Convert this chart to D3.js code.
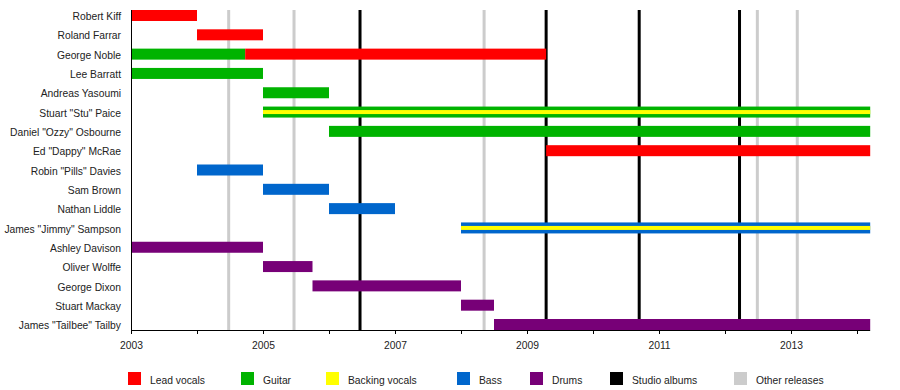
<!DOCTYPE html>
<html><head><meta charset="utf-8">
<script src="https://cdn.jsdelivr.net/npm/d3@7"></script>
<style>
html,body{margin:0;padding:0;background:#fff;}
svg{display:block;font-family:"Liberation Sans",Arial,sans-serif;}
</style></head>
<body><svg id="chart" width="900" height="390"></svg>
<script>
const members = ["Robert Kiff","Roland Farrar","George Noble","Lee Barratt","Andreas Yasoumi",
 "Stuart \"Stu\" Paice","Daniel \"Ozzy\" Osbourne","Ed \"Dappy\" McRae","Robin \"Pills\" Davies",
 "Sam Brown","Nathan Liddle","James \"Jimmy\" Sampson","Ashley Davison","Oliver Wolffe",
 "George Dixon","Stuart Mackay","James \"Tailbee\" Tailby"];
const roles = ["Lead vocals","Guitar","Backing vocals","Bass","Drums","Studio albums","Other releases"];
const roleColors = ["#ff0000","#00b300","#ffff00","#0066cc","#770077","#000000","#cccccc"];
const END = 2014.2;
// [member, role, start, end]
const spells = [
 ["Robert Kiff","Lead vocals",2003,2004],
 ["Roland Farrar","Lead vocals",2004,2005],
 ["George Noble","Guitar",2003,2004.73],
 ["George Noble","Lead vocals",2004.73,2009.29],
 ["Lee Barratt","Guitar",2003,2005],
 ["Andreas Yasoumi","Guitar",2005,2006],
 ["Stuart \"Stu\" Paice","Guitar",2005,END],
 ["Daniel \"Ozzy\" Osbourne","Guitar",2006,END],
 ["Ed \"Dappy\" McRae","Lead vocals",2009.29,END],
 ["Robin \"Pills\" Davies","Bass",2004,2005],
 ["Sam Brown","Bass",2005,2006],
 ["Nathan Liddle","Bass",2006,2007],
 ["James \"Jimmy\" Sampson","Bass",2008,END],
 ["Ashley Davison","Drums",2003,2005],
 ["Oliver Wolffe","Drums",2005,2005.75],
 ["George Dixon","Drums",2005.75,2008],
 ["Stuart Mackay","Drums",2008,2008.5],
 ["James \"Tailbee\" Tailby","Drums",2008.5,END]
];
// secondary stripe [member, role, start, end]
const stripes = [
 ["Stuart \"Stu\" Paice","Backing vocals",2005,END],
 ["James \"Jimmy\" Sampson","Backing vocals",2008,END]
];
const studioAlbums = [2006.47, 2009.29, 2010.70, 2012.22];
const otherReleases = [2004.48, 2005.47, 2008.35, 2012.49, 2013.095];
const tickYears = [2003,2004,2005,2006,2007,2008,2009,2010,2011,2012,2013,2014];
const tickLabels = ["2003","2005","2007","2009","2011","2013"];

const svg = d3.select("#chart");
const x = d3.scaleLinear().domain([2003, END]).range([131, 870.2]);
const y = d3.scaleBand().domain(members).range([10, 330]).paddingInner(0.4304).paddingOuter(0);
const color = d3.scaleOrdinal().domain(roles).range(roleColors);

// release lines
svg.append("g").selectAll("line").data(otherReleases).join("line")
  .attr("x1", d=>x(d)).attr("x2", d=>x(d)).attr("y1",10).attr("y2",330)
  .attr("stroke", color("Other releases")).attr("stroke-width",3);
svg.append("g").selectAll("line").data(studioAlbums).join("line")
  .attr("x1", d=>x(d)).attr("x2", d=>x(d)).attr("y1",10).attr("y2",330)
  .attr("stroke", color("Studio albums")).attr("stroke-width",3);

// bars
svg.append("g").selectAll("rect").data(spells).join("rect")
  .attr("x", d=>x(d[2])).attr("width", d=>x(d[3])-x(d[2]))
  .attr("y", d=>y(d[0])).attr("height", y.bandwidth())
  .attr("fill", d=>color(d[1]));
svg.append("g").selectAll("rect").data(stripes).join("rect")
  .attr("x", d=>x(d[2])).attr("width", d=>x(d[3])-x(d[2]))
  .attr("y", d=>y(d[0]) + (y.bandwidth()-4)/2).attr("height", 4)
  .attr("fill", d=>color(d[1]));

// names
svg.append("g").selectAll("text").data(members).join("text")
  .attr("x",121).attr("y", d=>y(d)+y.bandwidth()/2).attr("dy","0.45em")
  .attr("text-anchor","end").attr("font-size",10.3).attr("fill","#222").text(d=>d);

// y axis line
svg.append("line").attr("x1",131).attr("x2",131).attr("y1",10).attr("y2",330)
  .attr("stroke","#000").attr("stroke-width",1).attr("shape-rendering","crispEdges");

// x axis
const ax = svg.append("g").attr("transform","translate(0,330)")
  .call(d3.axisBottom(x).tickValues(tickYears).tickSize(4).tickSizeOuter(0)
    .tickFormat(d => tickLabels.includes(String(d)) ? String(d) : ""));
ax.select(".domain").attr("stroke","#000").attr("d","M131,0.5H870.2");
ax.selectAll(".tick line").attr("stroke","#000");
ax.selectAll(".tick text").attr("font-size",10.3).attr("font-family","'Liberation Sans',Arial,sans-serif")
  .attr("fill","#222").attr("y",12);

// legend
const legendX = [128, 241, 326, 457, 530, 610, 734];
const lg = svg.append("g").selectAll("g").data(roles).join("g")
  .attr("transform",(d,i)=>`translate(${legendX[i]},372)`);
lg.append("rect").attr("width",13).attr("height",13).attr("fill", d=>color(d));
lg.append("text").attr("x",22).attr("y",8.5).attr("dy","0.35em")
  .attr("font-size",10.3).attr("fill","#222").text(d=>d);
</script></body></html>
